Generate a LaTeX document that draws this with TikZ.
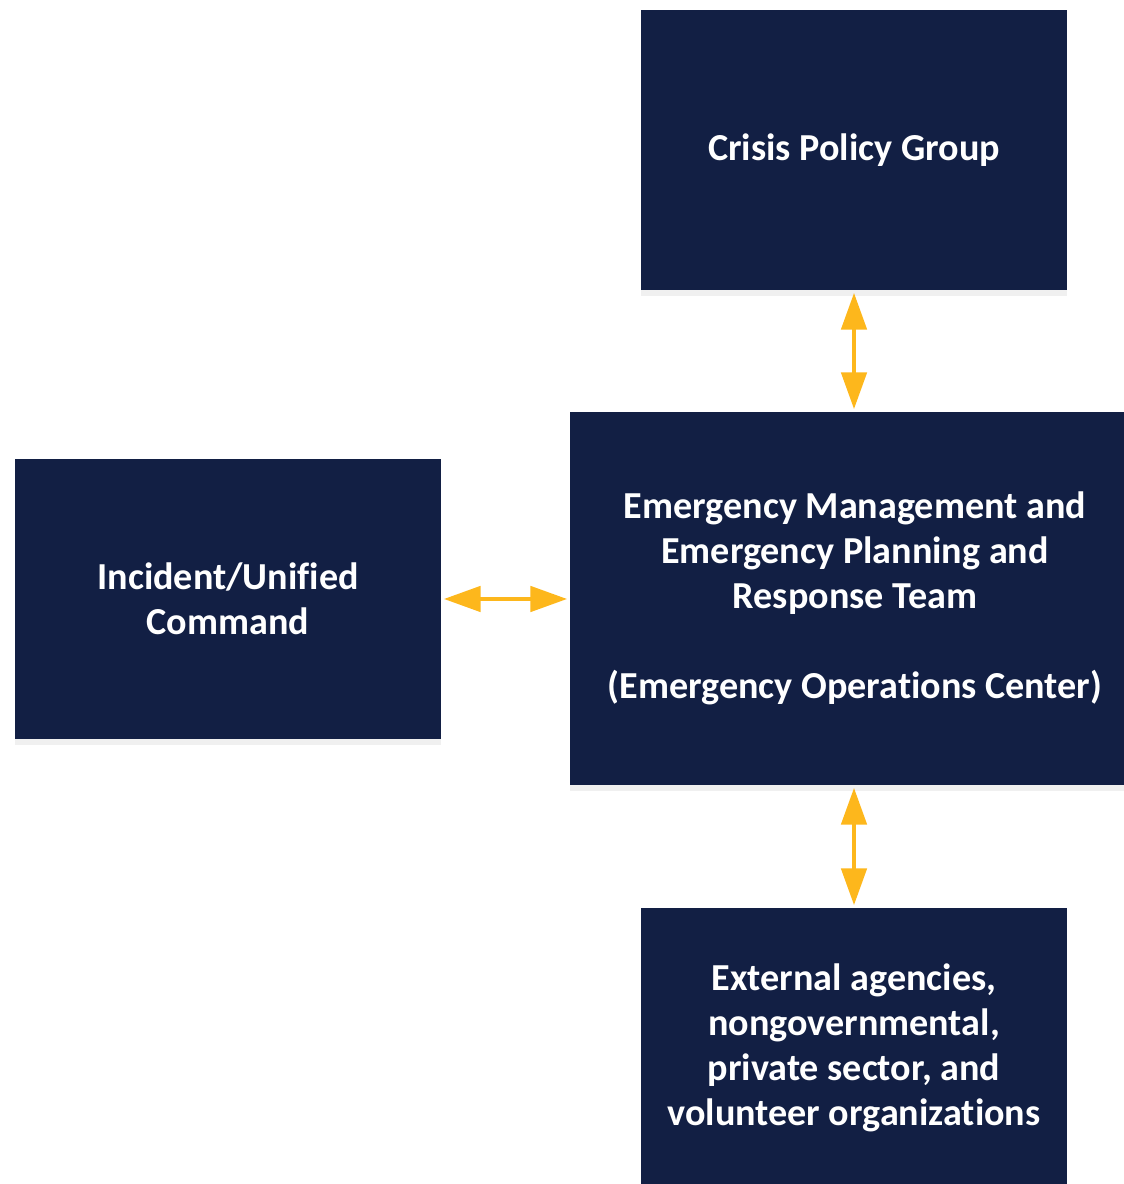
\documentclass[tikz,border=0pt]{standalone}
\usepackage{fontspec}
\setmainfont{Carlito}[Ligatures = NoCommon]
\usetikzlibrary{arrows.meta,shadows}

\definecolor{boxnavy}{HTML}{121F44}
\definecolor{linkgold}{HTML}{FDB71C}

\tikzset{
	unit/.style = {draw = none, fill = boxnavy, text = white, align = center,
		font = \fontsize{10.85}{12.8}\selectfont\bfseries, inner sep = 0pt,
		drop shadow = {opacity = 0.12, shadow xshift = 0pt, shadow yshift = -0.06cm}},
	link/.style = {linkgold, line width = 1.4pt,
		{Triangle[length = 0.37cm, width = 0.25cm]}-{Triangle[length = 0.37cm, width = 0.25cm]},
		shorten <= 0.02cm, shorten >= 0.02cm}
}

\begin{document}
\begin{tikzpicture}
	\useasboundingbox (0,0) rectangle (11.24,11.84);
	\clip (0,0) rectangle (11.24,11.84);
	
	\node[unit, minimum width = 4.26cm, minimum height = 2.8cm] (crisis) at (8.54,10.34) {Crisis Policy Group};
	\node[unit, minimum width = 5.7cm, minimum height = 3.73cm] (eoc) at (8.55,5.855)
		{Emergency Management and\\Emergency Planning and\\Response Team\\[12.8pt](Emergency Operations Center)};
	\node[unit, minimum width = 4.26cm, minimum height = 2.8cm] (incident) at (2.28,5.85) {Incident/Unified\\Command};
	\node[unit, minimum width = 4.26cm, minimum height = 2.8cm] (external) at (8.54,1.36)
		{External agencies,\\nongovernmental,\\private sector, and\\volunteer organizations};
	
	\draw[link] (crisis.south) -- (crisis.south |- eoc.north);
	\draw[link] (incident.east) -- (eoc.west |- incident.east);
	\draw[link] (external.north) -- (external.north |- eoc.south);
	
\end{tikzpicture}
\end{document}
